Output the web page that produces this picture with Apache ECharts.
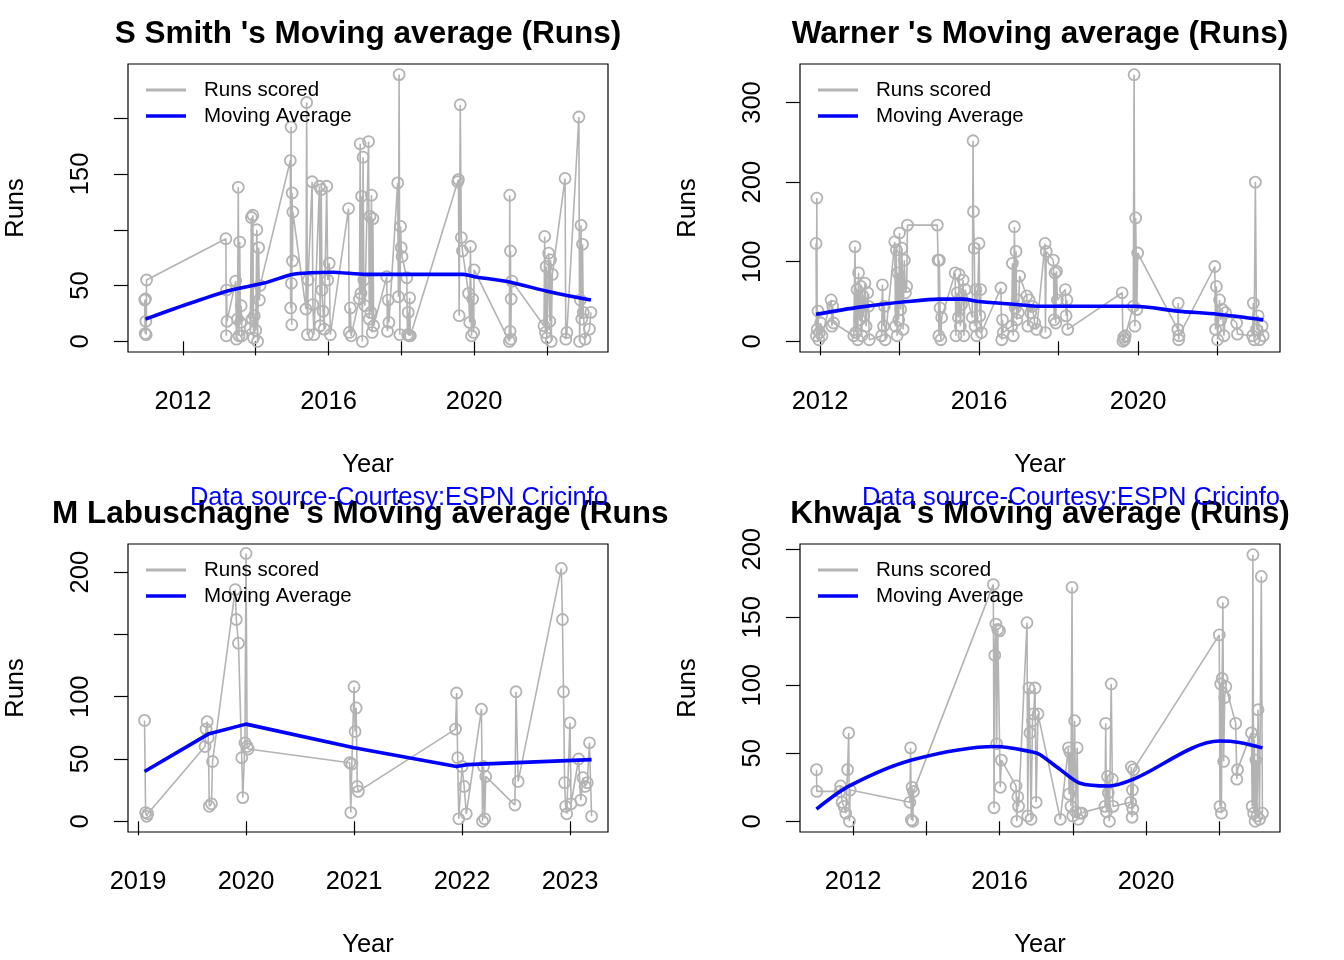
<!DOCTYPE html>
<html><head><meta charset="utf-8">
<script src="https://cdn.jsdelivr.net/npm/echarts@6/dist/echarts.min.js"></script>
<style>html,body{margin:0;padding:0;background:#fff}#c{width:1344px;height:960px}</style>
</head><body><div id="c"></div>
<script>
// ---------- DATA ----------
const smithYear = [2010.95,2010.96,2010.97,2010.98,2010.99,2011.00,
 2013.18,2013.19,2013.20,2013.21,
 2013.45,2013.47,2013.50,2013.52,2013.54,2013.56,2013.58,2013.60,2013.62,
 2013.85,2013.88,2013.90,2013.92,2013.94,2013.96,2014.00,2014.03,2014.05,2014.08,2014.10,2014.12,
 2014.95,2014.96,2014.97,2014.98,2014.99,2015.00,2015.01,2015.02,
 2015.38,2015.40,2015.42,2015.44,
 2015.55,2015.57,2015.60,
 2015.75,2015.77,2015.80,2015.82,2015.85,2015.88,2015.95,2015.98,2016.02,2016.05,
 2016.55,2016.57,2016.60,2016.62,
 2016.85,2016.87,2016.89,2016.91,2016.93,2016.95,2016.97,2017.00,
 2017.10,2017.12,2017.14,2017.16,2017.18,2017.20,2017.22,2017.24,
 2017.60,2017.62,2017.64,2017.66,
 2017.90,2017.92,2017.94,2017.96,2017.98,2018.00,2018.02,
 2018.15,2018.17,2018.19,2018.21,2018.23,2018.25,
 2019.55,2019.57,2019.59,2019.62,2019.65,2019.68,
 2019.85,2019.88,2019.90,2019.93,2019.96,2019.99,2020.00,
 2020.97,2020.98,2020.99,2021.00,2021.01,2021.02,2021.04,
 2021.92,2021.94,2021.96,2021.98,2022.00,2022.05,2022.08,2022.10,2022.12,2022.15,
 2022.50,2022.52,2022.55,
 2022.88,2022.90,2022.92,2022.94,2022.96,2022.98,2023.00,2023.05,2023.17,2023.21];
const smithRuns = [37,7,38,18,6,55,
 92,5,46,18,
 54,2,20,138,5,89,17,32,5,
 12,111,20,113,3,23,10,100,0,84,37,50,
 162,30,192,52,15,133,72,116,
 29,214,6,55,
 143,33,6,
 139,14,136,46,27,11,139,55,70,6,
 119,8,30,5,
 38,177,43,130,0,165,55,32,
 179,20,112,26,131,8,110,14,
 58,9,37,17,
 142,40,239,6,103,84,76,
 57,6,26,5,39,5,
 143,145,23,212,93,81,
 43,17,85,5,38,8,64,
 0,131,9,81,2,38,54,
 14,94,8,67,3,79,18,73,0,60,
 146,2,8,
 201,0,37,104,20,87,26,2,11,26];
const smithMaYear = [2010.97,2012.0,2013.2,2014.2,2015.0,2015.5,2016.1,2017.0,2018.0,2019.7,2020.0,2021.0,2022.0,2023.21];
const smithMa = [20,32,45,52,60,61.5,62,60,60,60,58,53,45,37];

const warnerYear = [2011.90,2011.91,2011.92,2011.93,2011.95,2011.97,2011.99,2012.02,2012.05,
 2012.28,2012.30,2012.32,2012.34,
 2012.85,2012.88,2012.90,2012.93,2012.95,2012.97,2013.00,2013.03,2013.05,2013.08,2013.10,2013.13,2013.16,2013.20,2013.22,2013.24,
 2013.55,2013.57,2013.60,2013.62,2013.64,
 2013.88,2013.90,2013.92,2013.94,2013.96,2013.98,2014.00,2014.03,2014.06,2014.09,2014.12,2014.15,2014.18,2014.20,
 2014.95,2014.97,2014.99,2015.00,2015.02,2015.04,2015.06,
 2015.40,2015.42,2015.45,2015.48,2015.50,2015.53,2015.56,2015.60,2015.62,2015.65,
 2015.83,2015.85,2015.86,2015.88,2015.90,2015.92,2015.94,
 2016.00,2016.02,2016.04,2016.06,
 2016.55,2016.57,2016.59,2016.61,
 2016.82,2016.84,2016.86,2016.89,2016.91,2016.93,2016.95,2016.97,2016.99,2017.02,
 2017.20,2017.23,2017.26,2017.30,2017.34,2017.40,2017.45,
 2017.66,2017.67,2017.69,
 2017.87,2017.89,2017.91,2017.93,2017.95,2017.97,
 2018.17,2018.19,2018.21,2018.23,
 2019.60,2019.62,2019.64,2019.66,2019.68,
 2019.88,2019.90,2019.92,2019.94,2019.97,2019.99,
 2021.00,2021.01,2021.02,2021.03,
 2021.93,2021.95,2021.97,2022.00,2022.05,2022.08,2022.12,2022.16,2022.20,
 2022.48,2022.50,
 2022.88,2022.90,2022.92,2022.95,2022.98,2023.02,2023.06,2023.12,2023.15];
const warnerRuns = [123,7,180,15,38,2,11,23,7,
 52,19,44,23,
 7,119,11,65,2,86,27,69,7,57,32,73,19,61,44,2,
 7,71,19,44,2,
 125,19,115,7,86,27,136,40,117,15,102,61,69,146,
 146,102,7,102,42,2,30,
 86,7,61,30,84,19,46,77,7,65,
 30,252,163,117,19,65,7,
 123,32,65,11,
 67,2,27,11,
 19,98,7,144,42,113,27,52,36,82,
 57,19,52,36,44,23,15,
 123,11,113,
 102,27,86,23,88,52,
 65,32,52,15,
 61,0,5,2,7,
 44,335,19,155,40,111,
 15,48,2,7,
 94,15,69,2,52,27,40,7,36,
 23,9,
 7,48,2,200,15,32,2,19,7];
const warnerMaYear = [2011.9,2013.0,2014.2,2015.0,2015.6,2016.0,2017.0,2017.5,2019.9,2021.0,2022.0,2023.15];
const warnerMa = [34,43,50,53,53,50,46,44,44,38,34,27];

const labuYear = [2019.06,2019.07,2019.08,2019.09,
 2019.62,2019.63,2019.64,2019.65,2019.66,2019.68,2019.69,
 2019.90,2019.91,2019.93,2019.96,2019.97,2019.99,2020.00,2020.01,2020.02,
 2020.96,2020.97,2020.98,2021.00,2021.01,2021.02,2021.03,2021.04,
 2021.94,2021.95,2021.96,2021.97,2022.00,2022.02,2022.04,
 2022.18,2022.19,2022.20,2022.21,2022.22,
 2022.49,2022.50,2022.52,
 2022.92,2022.93,2022.94,2022.95,2022.96,2022.97,
 2023.00,2023.01,
 2023.08,2023.10,2023.12,2023.14,2023.16,2023.18,2023.20];
const labuRuns = [81,7,4,6,
 60,74,80,67,12,14,48,
 186,162,143,51,19,63,215,60,58,
 47,7,46,108,72,91,28,24,
 74,103,51,2,44,28,6,
 90,0,44,2,36,
 13,104,32,
 203,162,104,31,12,6,
 79,14,
 50,17,35,28,31,63,4];
const labuMaYear = [2019.06,2019.65,2020.0,2021.0,2021.95,2022.05,2023.2];
const labuMa = [40,70,78,59,44,45.5,49.5];

const khwajaYear = [2011.00,2011.01,
 2011.64,2011.66,2011.70,2011.75,2011.80,2011.85,2011.88,2011.90,2011.92,
 2013.55,2013.57,2013.59,2013.61,2013.63,2013.65,
 2015.83,2015.85,2015.87,2015.90,2015.92,2015.95,2016.00,2016.02,2016.05,
 2016.45,2016.47,2016.50,2016.52,
 2016.75,2016.77,2016.80,2016.83,2016.86,2016.90,2016.93,2016.97,2017.00,2017.05,
 2017.66,
 2017.88,2017.90,2017.92,2017.95,2017.98,2018.00,2018.05,2018.08,2018.12,2018.15,2018.20,2018.25,
 2018.88,2018.90,2018.92,2018.95,2018.97,2019.00,2019.05,2019.08,2019.10,
 2019.58,2019.60,2019.62,2019.63,2019.64,2019.66,
 2022.00,2022.02,2022.04,2022.06,2022.08,2022.10,2022.12,2022.15,2022.18,
 2022.45,2022.48,2022.50,
 2022.88,2022.90,2022.92,2022.94,2022.96,2022.98,2023.00,2023.03,2023.06,2023.10,2023.15,2023.18];
const khwajaRuns = [38,22,
 22,26,14,11,6,38,65,0,23,
 14,54,1,25,0,22,
 174,10,122,145,57,141,140,25,45,
 26,0,18,11,
 146,4,98,65,1.5,74,79,98,14,79,
 1.5,
 54,20,51,11,172,4,74,7,54,1.5,6,6,
 11,72,7,33,21,0,101,31,11,
 14,40,3,23,9,38,
 137,11,101,6,105,161,44,91,99,
 72,31,38,
 65,11,196,6,60,0,45,4,82,1.5,180,6];
const khwajaMaYear = [2011.0,2011.9,2013.6,2015.9,2016.9,2017.11,2017.66,2018.2,2019.0,2019.66,2022.0,2022.55,2023.18];
const khwajaMa = [9,26,45,55,51,49,38,28,26,31,59,58,54];

const titles = ["S Smith 's Moving average (Runs)", "Warner 's Moving average (Runs)",
                "M Labuschagne 's Moving average (Runs", "Khwaja 's Moving average (Runs)"];
const xTicksA = [2012,2014,2016,2018,2020,2022];
const xLabelsA = [2012,2016,2020];
const xTicksL = [2019,2020,2021,2022,2023];
const yTicks200 = [0,50,100,150,200];
const yTicks300 = [0,100,200,300];
const yLabSmith = [0,50,150];
const yLabWarner = [0,100,200,300];
const yLabLabu = [0,50,100,200];
const yLabKhwaja = [0,50,100,150,200];
const sourceText = 'Data source-Courtesy:ESPN Cricinfo';

// ---------- LAYOUT ----------
const FONT = "'Liberation Sans', Arial, Helvetica, sans-serif";
const GRAY = '#b3b3b3';
const panels = [
 {years:smithYear, runs:smithRuns, maY:smithMaYear, ma:smithMa, smooth:0.2, x:[2010.49,2023.68], y:[-9.5,248.5], xt:xTicksA, xl:xLabelsA, yt:yTicks200, yl:yLabSmith, left:128, top:64},
 {years:warnerYear, runs:warnerRuns, maY:warnerMaYear, ma:warnerMa, smooth:0.3, x:[2011.497,2023.57], y:[-13.4,348.4], xt:xTicksA, xl:xLabelsA, yt:yTicks300, yl:yLabWarner, left:800, top:64},
 {years:labuYear, runs:labuRuns, maY:labuMaYear, ma:labuMa, smooth:false, x:[2018.907,2023.352], y:[-8.6,222.6], xt:xTicksL, xl:xTicksL, yt:yTicks200, yl:yLabLabu, left:128, top:544},
 {years:khwajaYear, runs:khwajaRuns, maY:khwajaMaYear, ma:khwajaMa, smooth:0.3, x:[2010.55,2023.66], y:[-7.84,203.84], xt:xTicksA, xl:xLabelsA, yt:yTicks200, yl:yLabKhwaja, left:800, top:544}
];
const W = 480, H = 288;

const grid = [], xAxis = [], yAxis = [], series = [], graphic = [];
panels.forEach((p, i) => {
  grid.push({left:p.left, top:p.top, width:W, height:H, show:true, borderColor:'#000', borderWidth:1.2, backgroundColor:'transparent', containLabel:false});
  xAxis.push({type:'value', gridIndex:i, min:p.x[0], max:p.x[1],
    axisLine:{show:false}, splitLine:{show:false},
    axisTick:{show:true, inside:false, length:14, customValues:p.xt, lineStyle:{color:'#000', width:1.2}},
    axisLabel:{show:true, customValues:p.xl, margin:37, color:'#000', fontSize:25.5, fontFamily:FONT, formatter:v=>String(Math.round(v))}});
  yAxis.push({type:'value', gridIndex:i, min:p.y[0], max:p.y[1],
    axisLine:{show:false}, splitLine:{show:false},
    axisTick:{show:true, inside:false, length:14, customValues:p.yt, lineStyle:{color:'#000', width:1.2}},
    axisLabel:{show:true, customValues:p.yl, rotate:90, margin:34, color:'#000', fontSize:25.5, fontFamily:FONT, formatter:v=>String(Math.round(v))}});
  series.push({type:'line', name:'Runs scored', xAxisIndex:i, yAxisIndex:i,
    data:p.years.map((y,k)=>[y,p.runs[k]]),
    symbol:'circle', symbolSize:11, showAllSymbol:true,
    lineStyle:{color:GRAY, width:1.6},
    itemStyle:{color:'rgba(255,255,255,0)', borderColor:GRAY, borderWidth:1.8},
    emphasis:{disabled:true}, animation:false, z:2});
  series.push({type:'line', name:'Moving Average', xAxisIndex:i, yAxisIndex:i,
    data:p.maY.map((y,k)=>[y,p.ma[k]]),
    symbol:'none', smooth:p.smooth,
    lineStyle:{color:'#0000ff', width:3.6},
    emphasis:{disabled:true}, animation:false, z:3});
  const cx = p.left + W/2;
  if (i === 2) {
    graphic.push({type:'text', x:52, y:p.top-30, style:{text:titles[i], font:`bold 31.5px ${FONT}`, fill:'#000', textAlign:'left', textVerticalAlign:'middle'}});
  } else {
    graphic.push({type:'text', x:cx, y:p.top-30, style:{text:titles[i], font:`bold 31.5px ${FONT}`, fill:'#000', textAlign:'center', textVerticalAlign:'middle'}});
  }
  graphic.push({type:'text', x:cx, y:p.top+401, style:{text:'Year', font:`25.5px ${FONT}`, fill:'#000', textAlign:'center', textVerticalAlign:'middle'}});
  graphic.push({type:'text', x:p.left-112, y:p.top+H/2, rotation:Math.PI/2, style:{text:'Runs', font:`25.5px ${FONT}`, fill:'#000', textAlign:'center', textVerticalAlign:'middle'}});
  const lx = p.left + 18, ly1 = p.top + 26, ly2 = p.top + 52;
  graphic.push({type:'line', shape:{x1:lx, y1:ly1, x2:lx+40, y2:ly1}, style:{stroke:GRAY, lineWidth:3}, z:10});
  graphic.push({type:'line', shape:{x1:lx, y1:ly2, x2:lx+40, y2:ly2}, style:{stroke:'#0000ff', lineWidth:3.6}, z:10});
  graphic.push({type:'text', x:lx+58, y:ly1, style:{text:'Runs scored', font:`20.5px ${FONT}`, fill:'#000', textVerticalAlign:'middle'}, z:10});
  graphic.push({type:'text', x:lx+58, y:ly2, style:{text:'Moving Average', font:`20.5px ${FONT}`, fill:'#000', textVerticalAlign:'middle'}, z:10});
  if (i < 2) {
    graphic.push({type:'text', x:p.left+W, y:p.top+434, style:{text:sourceText, font:`25.5px ${FONT}`, fill:'#0000ff', textAlign:'right', textVerticalAlign:'middle'}, z:10});
  }
});

const chart = echarts.init(document.getElementById('c'), null, {renderer:'canvas'});
chart.setOption({animation:false, backgroundColor:'#fff', grid, xAxis, yAxis, series, graphic});
</script>
</body></html>
